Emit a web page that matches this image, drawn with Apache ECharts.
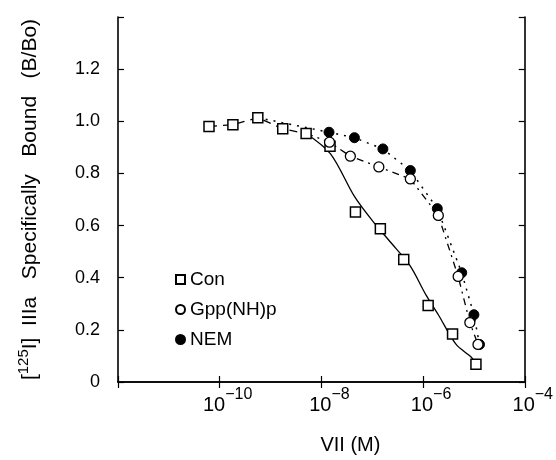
<!DOCTYPE html>
<html>
<head>
<meta charset="utf-8">
<script src="https://cdn.jsdelivr.net/npm/echarts@6/dist/echarts.min.js"></script>
<style>html,body{margin:0;padding:0;background:#fff}#c{width:556px;height:460px}</style>
</head>
<body>
<div id="c"></div>
<script>
// x values are log10 of VII concentration (M)
var conLogM  = [-10.21, -9.74, -9.25, -8.76, -8.30, -7.83, -7.33, -6.84, -6.38, -5.90, -5.42, -4.96];
var conBound = [0.980, 0.987, 1.014, 0.971, 0.953, 0.904, 0.652, 0.588, 0.470, 0.293, 0.184, 0.068];

var gppLogM  = [-7.84, -7.43, -6.87, -6.25, -5.70, -5.31, -5.08, -4.92];
var gppBound = [0.920, 0.866, 0.825, 0.779, 0.639, 0.405, 0.228, 0.144];

var nemLogM  = [-7.85, -7.35, -6.79, -6.25, -5.72, -5.24, -5.00, -4.89];
var nemBound = [0.958, 0.937, 0.894, 0.811, 0.665, 0.419, 0.258, 0.144];

// fitted (solid) control curve
var conFitLogM  = [-8.30, -7.82, -7.35, -6.99, -6.63, -6.26, -5.94, -5.70, -5.35, -5.05, -4.96];
var conFitBound = [0.953, 0.875, 0.712, 0.617, 0.534, 0.447, 0.333, 0.258, 0.144, 0.095, 0.068];

var xTicks = [-10, -8, -6, -4];
var yTicks = [0, 0.2, 0.4, 0.6, 0.8, 1.0, 1.2];

function pairs(xs, ys) { return xs.map(function (x, i) { return [x, ys[i]]; }); }

var ink = '#000';
var font = 'Liberation Sans, Arial, sans-serif';

var conPts = pairs(conLogM, conBound);
var sharedTop = conPts.slice(0, 5);
var gppLine = [conPts[4]].concat(pairs(gppLogM, gppBound));
var nemLine = [conPts[2]].concat(pairs(nemLogM, nemBound));

var frameAxisLine = {show: true, lineStyle: {color: ink, width: 1.6}};
var frameTick = {show: true, inside: true, length: 6, lineStyle: {color: ink, width: 1.2}};

var chart = echarts.init(document.getElementById('c'), null, {renderer: 'canvas'});
chart.setOption({
  backgroundColor: '#fff',
  animation: false,
  textStyle: {fontFamily: font, color: ink},
  grid: {left: 118, right: 31, top: 17, bottom: 72},
  legend: {
    orient: 'vertical', left: 170, top: 265,
    itemWidth: 9, itemHeight: 9, itemGap: 11,
    textStyle: {fontSize: 19, color: ink, fontFamily: font},
    data: ['Con', 'Gpp(NH)p', 'NEM']
  },
  xAxis: [{
    type: 'value', min: -12, max: -4, interval: 2,
    name: 'VII (M)', nameLocation: 'middle', nameGap: 53,
    nameTextStyle: {fontSize: 20, color: ink, fontFamily: font, padding: [0, 0, 0, 58]},
    axisLine: frameAxisLine, axisTick: frameTick,
    splitLine: {show: false},
    axisLabel: {
      margin: 5, color: ink, fontFamily: font, padding: [0, 0, 0, 16],
      formatter: function (v) {
        if (xTicks.indexOf(v) < 0) return '';
        return '{b|10}{e|\u2212' + (-v) + '}';
      },
      rich: {
        b: {fontSize: 20, lineHeight: 28, verticalAlign: 'bottom', color: ink, fontFamily: font},
        e: {fontSize: 16, lineHeight: 16, verticalAlign: 'top', color: ink, fontFamily: font}
      }
    }
  }, {
    type: 'value', min: -12, max: -4, interval: 2, position: 'top',
    axisLine: frameAxisLine, axisTick: frameTick,
    axisLabel: {show: false}, splitLine: {show: false}
  }],
  yAxis: [{
    type: 'value', min: 0, max: 1.4, interval: 0.2,
    name: '[{s|125}I]  IIIa   Specifically   Bound   (B/Bo)',
    nameLocation: 'middle', nameRotate: 90, nameGap: 74,
    nameTextStyle: {
      fontSize: 21, color: ink, fontFamily: font, lineHeight: 28,
      rich: {s: {fontSize: 15, lineHeight: 15, verticalAlign: 'top', color: ink, fontFamily: font}}
    },
    axisLine: frameAxisLine, axisTick: frameTick,
    splitLine: {show: false},
    axisLabel: {
      margin: 18, fontSize: 18, color: ink, fontFamily: font,
      formatter: function (v) {
        var r = Math.round(v * 10) / 10;
        var hit = yTicks.some(function (t) { return Math.abs(t - r) < 1e-6; });
        if (!hit) return '';
        return r === 0 ? '0' : r.toFixed(1);
      }
    }
  }, {
    type: 'value', min: 0, max: 1.4, interval: 0.2, position: 'right',
    axisLine: frameAxisLine, axisTick: frameTick,
    axisLabel: {show: false}, splitLine: {show: false}
  }],
  series: [
    {type: 'line', data: sharedTop, symbol: 'none', silent: true,
     lineStyle: {color: ink, width: 1.3, type: [8, 6]}, z: 2},
    {type: 'line', data: pairs(conFitLogM, conFitBound), symbol: 'none', smooth: 0.3, silent: true,
     lineStyle: {color: ink, width: 1.3, type: 'solid'}, z: 2},
    {type: 'line', data: gppLine, symbol: 'none', silent: true, xAxisIndex: 1, yAxisIndex: 1,
     lineStyle: {color: ink, width: 1.3, type: [7, 5, 2, 5]}, z: 2},
    {type: 'line', data: nemLine, symbol: 'none', silent: true, xAxisIndex: 1, yAxisIndex: 1,
     lineStyle: {color: ink, width: 1.5, type: [2, 6]}, z: 2},
    {name: 'Con', type: 'scatter', data: conPts, symbol: 'rect', symbolSize: 10,
     itemStyle: {color: '#fff', borderColor: ink, borderWidth: 1.5, opacity: 1}, z: 5},
    {name: 'NEM', type: 'scatter', data: pairs(nemLogM, nemBound), symbol: 'circle', symbolSize: 10,
     itemStyle: {color: ink, borderColor: ink, borderWidth: 1, opacity: 1}, z: 5},
    {name: 'Gpp(NH)p', type: 'scatter', data: pairs(gppLogM, gppBound), symbol: 'circle', symbolSize: 10,
     itemStyle: {color: '#fff', borderColor: ink, borderWidth: 1.3, opacity: 1}, z: 6}
  ]
});
</script>
</body>
</html>
